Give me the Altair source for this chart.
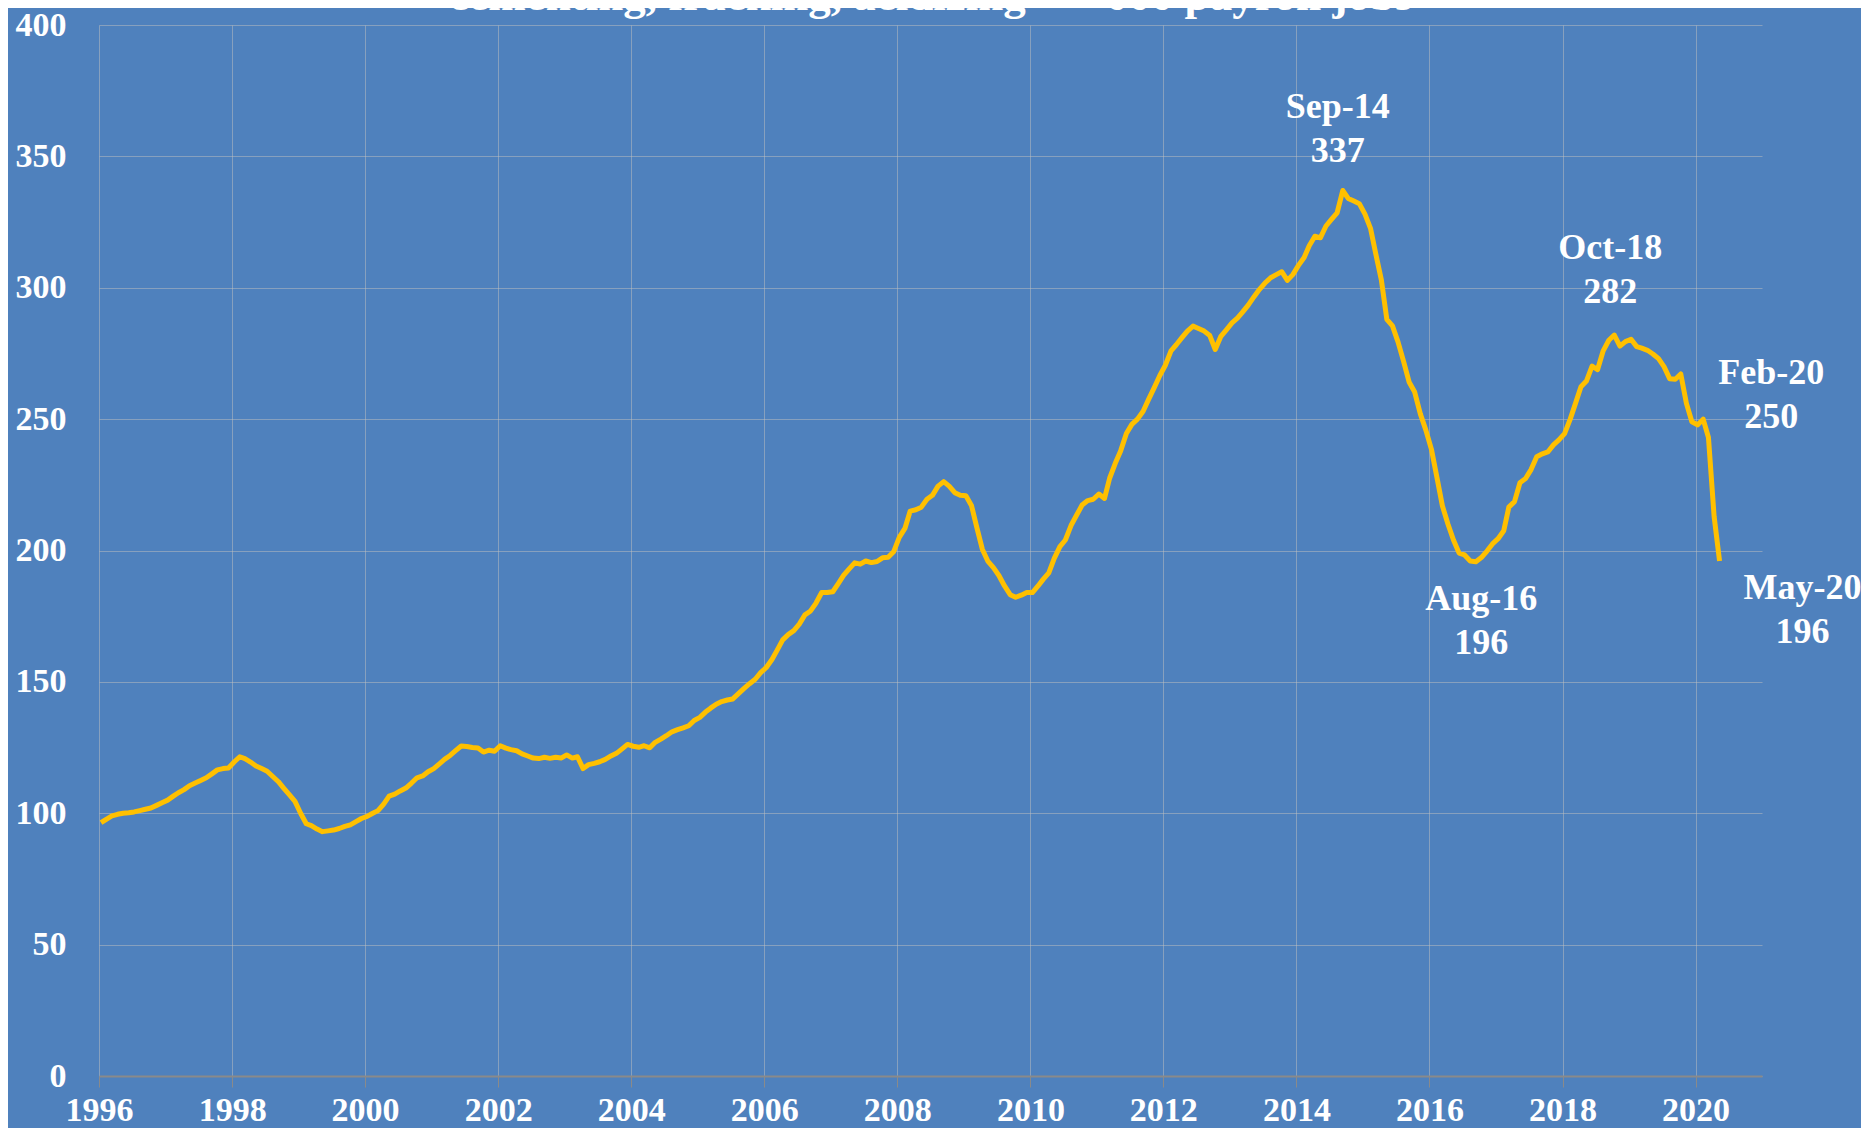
import altair as alt
import pandas as pd

# Monthly payroll jobs ('000), Jan 1996 .. May 2020
v1996 = [96.4, 97.8, 99, 99.6, 100, 100.2, 100.5, 101, 101.5, 102, 103, 104]
v1997 = [105, 106.5, 107.8, 109, 110.5, 111.5, 112.5, 113.5, 115, 116.5, 117, 117.2]
v1998 = [119.5, 121.5, 120.8, 119.5, 118, 117, 116, 114, 112, 109.5, 107, 104.5]
v1999 = [100, 96, 95.3, 94, 93, 93.3, 93.6, 94.2, 95, 95.6, 96.8, 98]
v2000 = [98.8, 100, 101, 103.5, 106.5, 107.3, 108.5, 109.6, 111.5, 113.5, 114.2, 115.8]
v2001 = [117, 118.8, 120.5, 122, 123.8, 125.6, 125.4, 125, 124.8, 123.3, 124, 123.6]
v2002 = [125.7, 124.8, 124.2, 123.8, 122.6, 121.8, 121, 120.8, 121.3, 120.9, 121.3, 121]
v2003 = [122.2, 121, 121.5, 117, 118.5, 119, 119.6, 120.5, 121.8, 122.8, 124.5, 126.2]
v2004 = [125.5, 125.1, 125.7, 124.9, 127, 128.2, 129.5, 131, 131.8, 132.5, 133.3, 135.3]
v2005 = [136.5, 138.5, 140, 141.5, 142.5, 143.1, 143.5, 145.5, 147.5, 149.3, 151, 153.5]
v2006 = [155.5, 158.5, 162, 166, 168, 169.5, 172, 175.5, 177, 180, 184, 184]
v2007 = [184.3, 187.5, 190.5, 193, 195.3, 194.8, 196, 195.4, 195.8, 197.2, 197.4, 199.5]
v2008 = [205, 208.4, 215, 215.5, 216.5, 219.5, 221, 224.5, 226.2, 224.5, 222, 221]
v2009 = [220.8, 217, 209, 200.5, 196, 193.5, 190.5, 186.5, 183.2, 182.2, 183, 184]
v2010 = [184, 186.5, 189, 191.5, 197, 201.5, 204, 209.5, 213.5, 217.3, 219, 219.5]
v2011 = [221.5, 219.8, 227.5, 233.2, 238, 244.5, 248, 250, 253, 257.5, 262, 266.5]
v2012 = [270.5, 276, 278.3, 281, 283.5, 285.4, 284.5, 283.5, 281.8, 276.5, 281.5, 284]
v2013 = [286.6, 288.5, 290.8, 293.5, 296.5, 299.4, 301.8, 303.8, 305, 306.1, 302.8, 305]
v2014 = [308.5, 311.5, 316, 319.6, 319, 323.5, 326, 328.5, 337, 334, 333, 332]
v2015 = [328, 322.5, 313, 303, 288, 285.5, 279.5, 272, 264, 260.3, 252, 245.9]
v2016 = [238.5, 227.5, 217, 210, 204, 199, 198.3, 196, 195.7, 197.3, 199.8, 202.5]
v2017 = [204.5, 207.5, 216.5, 218.6, 225.8, 227.4, 230.8, 235.7, 236.8, 237.5, 240.2, 242.1]
v2018 = [244.5, 250, 255.8, 262.3, 264.5, 270.2, 268.8, 276, 280, 282, 277.8, 279.5]
v2019 = [280.4, 277.6, 277, 276.2, 274.8, 273, 270, 265.4, 265.2, 267.2, 256, 249]
v2020 = [247.8, 250, 243, 213, 196]

years = [v1996, v1997, v1998, v1999, v2000, v2001, v2002, v2003, v2004, v2005,
         v2006, v2007, v2008, v2009, v2010, v2011, v2012, v2013, v2014, v2015,
         v2016, v2017, v2018, v2019, v2020]

dates, values = [], []
for i, yv in enumerate(years):
    for m, v in enumerate(yv):
        dates.append(f"{1996 + i}-{m + 1:02d}-12")
        values.append(v)
df = pd.DataFrame({"date": dates, "jobs": values})

# annotations: label, date, value, dx, dy
ann_labels = ["Sep-14", "Aug-16", "Oct-18", "Feb-20", "May-20"]
ann_dates = ["2014-09-12", "2016-08-12", "2018-10-12", "2020-02-12", "2020-05-12"]
ann_values = [337, 196, 282, 250, 196]
ann_dx = [-5, 11, -4, 68, 83]
ann_dy = [-84, 38, -87, -46, 27]

title_text = "cementing, fracking, acidizing \u2014 '000 payroll jobs"
year_ticks = list(range(1996, 2021, 2))

FONT = "Liberation Serif"
W, H = 1663, 1051

x_scale = alt.Scale(type="utc",
                    domain=[alt.DateTime(year=1996, month=1, date=1, utc=True),
                            alt.DateTime(year=2020, month=12, date=31, utc=True)])
y_scale = alt.Scale(domain=[0, 400], nice=False)

line = alt.Chart(df).mark_line(color="#FFC000", strokeWidth=5, strokeJoin="round").encode(
    x=alt.X("date:T", scale=x_scale, title=None,
            axis=alt.Axis(values=[alt.DateTime(year=y, month=1, date=1, utc=True) for y in year_ticks],
                          format="%Y", formatType="utc", labelAngle=0,
                          grid=True, gridColor="#BFBFBF", gridOpacity=0.5, gridWidth=1,
                          domain=True, domainColor="#8A8A8A", domainWidth=2,
                          ticks=True, tickColor="#8A8A8A", tickSize=11, tickWidth=1,
                          labelPadding=6, labelBaseline="top", labelFlush=False)),
    y=alt.Y("jobs:Q", scale=y_scale, title=None,
            axis=alt.Axis(values=list(range(0, 401, 50)), grid=True,
                          gridColor="#BFBFBF", gridOpacity=0.5, gridWidth=1,
                          domain=False, ticks=False, tickSize=0, labelPadding=33,
                          labelBaseline="middle")),
)

layers = [line]
ann_df = pd.DataFrame({"label": ann_labels, "date": ann_dates, "jobs": ann_values})
for lab, dx, dy in zip(ann_labels, ann_dx, ann_dy):
    sub = ann_df[ann_df["label"] == lab].copy()
    sub["txt"] = sub["label"] + "\n" + sub["jobs"].astype(int).astype(str)
    layers.append(
        alt.Chart(sub).mark_text(font=FONT, fontSize=36, fontWeight="bold", color="white",
                                 align="center", baseline="middle", lineBreak="\n",
                                 lineHeight=44, dx=dx, dy=dy).encode(
            x=alt.X("date:T", scale=x_scale),
            y=alt.Y("jobs:Q", scale=y_scale),
            text="txt:N")
    )

title_df = pd.DataFrame({"t": [title_text]})
layers.append(
    alt.Chart(title_df).mark_text(font=FONT, fontSize=45, fontWeight="bold", color="white",
                                  align="center", baseline="alphabetic").encode(
        x=alt.value(W / 2), y=alt.value(-15), text="t:N")
)

chart = alt.layer(*layers).properties(
    width=W, height=H,
    autosize=alt.AutoSizeParams(type="none"),
    padding={"left": 91, "top": 17, "right": 99, "bottom": 52},
    background="#4F81BD",
).configure_view(stroke=None).configure_axis(
    labelFont=FONT, labelFontSize=34, labelFontWeight="bold", labelColor="white",
)

chart.save("out.html", embed_options={"renderer": "svg", "actions": False})
